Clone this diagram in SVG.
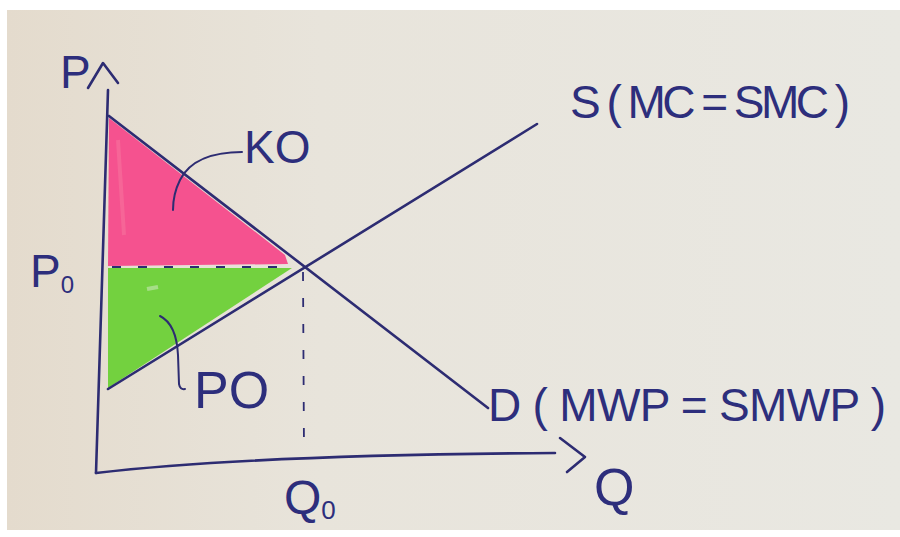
<svg xmlns="http://www.w3.org/2000/svg" width="900" height="537" viewBox="0 0 900 537">
  <defs>
    <linearGradient id="paper" x1="0" y1="0" x2="1" y2="0">
      <stop offset="0" stop-color="#e4dbcd"/>
      <stop offset="0.35" stop-color="#e8e4db"/>
      <stop offset="1" stop-color="#e9e8e2"/>
    </linearGradient>
  </defs>
  <style>
    .ink { fill: none; stroke: #2d2c72; stroke-width: 2.6; stroke-linecap: round; stroke-linejoin: round; }
    .thin { fill: none; stroke: #2d2c72; stroke-width: 2; stroke-linecap: round; }
    .dash { fill: none; stroke: #2d2c72; stroke-width: 1.8; stroke-dasharray: 9 17; }
    .lbl { font-family: "Liberation Sans", "DejaVu Sans", sans-serif; fill: #2d2e7c; }
  </style>
  <rect x="0" y="0" width="900" height="537" fill="#ffffff"/>
  <rect x="7" y="10" width="893" height="520" fill="url(#paper)"/>

  <g id="consumer-surplus">
    <polygon points="109,118 285,255 288,264 108,266" fill="#f5528f"/>
    <path d="M118,140 L124,235" stroke="#f7789f" stroke-width="4" fill="none" opacity="0.5"/>
  </g>
  <g id="producer-surplus">
    <polygon points="108,268 292,268 108,388" fill="#73d13f"/>
    <path d="M147,289 L158,287" stroke="#c8e8b8" stroke-width="4" opacity="0.6"/>
  </g>

  <g id="axes">
    <path class="ink" d="M108,90 L96,473"/>
    <path class="ink" d="M88,88 L103,63 L118,83"/>
    <path class="ink" d="M96,473 Q250,455 555,453"/>
    <path class="ink" d="M560,438 L585,457 L567,472"/>
  </g>

  <g id="connectors">
    <path id="demand" class="ink" d="M109,116 L488,408"/>
    <path id="supply" class="ink" d="M108,389 L537,124"/>
    <path id="q0-guide" class="dash" d="M303,272 L304,452"/>
    <path id="p0-guide" class="dash" d="M112,267 L292,267"/>
    <path id="ko-leader" class="thin" d="M242,152 C 214,152 190,160 180,180 C 174,192 173,203 173,210"/>
    <path id="po-leader" class="thin" d="M160,316 C 172,322 177,335 178,355 L 179,384 Q 180,390 185,389"/>
  </g>

  <g id="label-p"><text class="lbl" x="60" y="88" font-size="46">P</text></g>
  <g id="label-p0"><text class="lbl" x="30" y="287" font-size="46">P<tspan font-size="24" dy="6">0</tspan></text></g>
  <g id="label-q0"><text class="lbl" x="284" y="514" font-size="48">Q<tspan font-size="26" dy="5">0</tspan></text></g>
  <g id="label-q"><text class="lbl" x="594" y="505" font-size="52">Q</text></g>
  <g id="label-ko"><text class="lbl" x="244" y="163" font-size="46">KO</text></g>
  <g id="label-po"><text class="lbl" x="194" y="408" font-size="52">PO</text></g>
  <g id="label-s"><text class="lbl" x="570" y="118" font-size="46" textLength="280" lengthAdjust="spacing">S ( MC = SMC )</text></g>
  <g id="label-d"><text class="lbl" x="488" y="421" font-size="46" textLength="398" lengthAdjust="spacing">D ( MWP = SMWP )</text></g>
</svg>
